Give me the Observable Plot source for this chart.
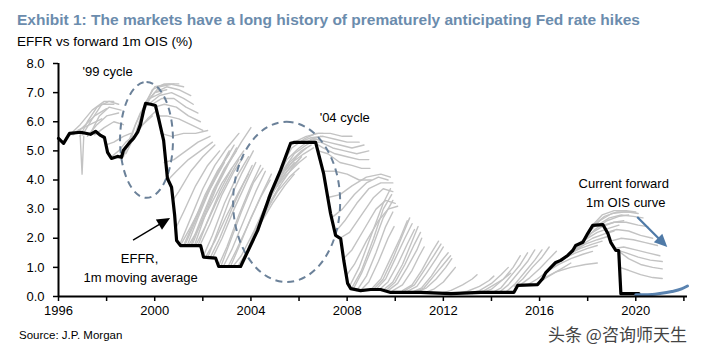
<!DOCTYPE html>
<html><head><meta charset="utf-8">
<script src="https://cdn.jsdelivr.net/npm/d3@7"></script>
<script src="https://cdn.jsdelivr.net/npm/@observablehq/plot@0.6"></script>
<style>
html,body{margin:0;padding:0;background:#fff;}
#wrap{position:relative;width:704px;height:353px;overflow:hidden;font-family:"Liberation Sans",Arial,sans-serif;}
#title{position:absolute;left:17px;top:11px;font-weight:bold;font-size:15.5px;color:#6b8cad;white-space:nowrap;transform-origin:left top;display:inline-block;}
#subtitle{position:absolute;left:17px;top:34px;font-size:13.5px;color:#000;white-space:nowrap;}
#chart{position:absolute;left:0;top:50px;}
#source{position:absolute;left:19px;top:329px;font-size:11.5px;color:#000;white-space:nowrap;}
#mark{position:absolute;left:548px;top:321px;font-size:17px;color:#444;font-family:"Noto Sans CJK SC",sans-serif;white-space:nowrap;}
</style></head>
<body>
<div id="wrap">
  <span id="title">Exhibit 1: The markets have a long history of prematurely anticipating Fed rate hikes</span>
  <div id="subtitle">EFFR vs forward 1m OIS (%)</div>
  <div id="chart"></div>
  <div id="source">Source: J.P. Morgan</div>
  <div id="mark">头条 @咨询师天生</div>
</div>
<script>
// ---- EFFR, 1m moving average (year, %)
const effrYears = [1996.00,1996.21,1996.46,1996.92,1997.33,1997.54,1997.75,1997.91,1998.04,1998.20,1998.45,1998.62,1998.70,1999.00,1999.12,1999.29,1999.41,1999.54,1999.62,1999.83,2000.03,2000.16,2000.37,2000.53,2000.70,2000.83,2000.91,2001.07,2001.91,2002.03,2002.53,2002.66,2003.57,2004.28,2004.82,2005.23,2005.65,2005.78,2006.69,2007.02,2007.31,2007.52,2007.73,2007.86,2008.02,2008.15,2008.56,2008.98,2009.39,2009.81,2011.06,2012.31,2013.55,2014.93,2015.09,2015.92,2016.13,2016.26,2016.67,2016.88,2017.17,2017.38,2017.50,2017.80,2018.00,2018.21,2018.63,2018.84,2018.96,2019.17,2019.29,2019.38,2020.13];
const effrValues = [5.43,5.26,5.60,5.64,5.57,5.67,5.53,5.46,4.95,4.74,4.81,4.78,5.02,5.33,5.43,5.64,5.91,6.39,6.63,6.60,6.56,6.12,5.36,4.05,3.75,2.78,1.92,1.75,1.75,1.35,1.32,1.03,1.03,2.27,3.54,4.33,5.26,5.29,5.29,4.23,2.85,2.10,1.99,1.24,0.45,0.27,0.20,0.24,0.24,0.14,0.14,0.10,0.14,0.14,0.38,0.41,0.62,0.82,1.17,1.24,1.41,1.58,1.75,1.86,2.16,2.44,2.47,2.16,1.86,1.58,1.58,0.10,0.10];

// ---- Current forward 1m OIS curve
const currentYears = [2020.00,2020.50,2021.00,2021.50,2021.90,2022.15];
const currentValues = [0.06,0.06,0.10,0.17,0.26,0.36];

// ---- Historical forward 1m OIS curves: [year, %] points
const forwardCurves = [
  [[1996.3,5.45],[1996.8,5.7],[1997.3,5.9],[1997.8,6.1]],
  [[1996.6,5.55],[1997.0,5.8],[1997.5,6.2],[1998.0,6.45]],
  [[1996.9,5.5],[1997.2,6.0],[1997.6,6.5],[1998.1,6.7],[1998.5,6.6]],
  [[1997.0,5.55],[1997.4,6.1],[1997.8,6.6],[1998.3,6.6]],
  [[1997.2,5.5],[1997.6,5.9],[1998.0,6.2],[1998.5,6.3]],
  [[1996.4,5.5],[1996.9,5.9],[1997.4,6.4],[1997.9,6.7],[1998.3,6.7]],
  [[1997.3,5.55],[1997.7,6.2],[1998.1,6.5],[1998.6,6.4]],
  [[1996.9,5.55],[1996.98,4.2],[1997.05,5.5]],
  [[1997.5,5.55],[1997.9,5.8],[1998.3,6.0],[1998.7,5.9]],
  [[1997.95,5.2],[1998.3,5.3],[1998.7,5.5],[1999.0,5.6]],
  [[1998.2,4.8],[1998.5,5.0],[1998.8,5.3],[1999.1,5.5]],
  [[1998.7,4.8],[1999.0,5.5],[1999.4,6.3],[1999.8,6.8],[2000.3,7.0]],
  [[1998.9,5.1],[1999.2,5.9],[1999.6,6.6],[2000.0,7.0],[2000.5,7.1]],
  [[1999.1,5.35],[1999.4,6.1],[1999.8,6.8],[2000.2,7.2],[2000.8,7.3]],
  [[1999.2,5.5],[1999.5,6.4],[1999.9,7.1],[2000.4,7.3],[2001.0,7.3]],
  [[1999.35,5.9],[1999.65,6.7],[2000.0,7.2],[2000.6,7.3],[2001.2,7.2]],
  [[1998.8,4.9],[1999.1,5.4],[1999.5,5.9],[1999.9,6.2]],
  [[1999.0,5.3],[1999.3,5.7],[1999.7,6.1],[2000.1,6.4]],
  [[1999.6,6.6],[2000.0,7.0],[2000.5,7.2],[2001.0,7.1],[2001.5,6.9]],
  [[1999.75,6.6],[2000.2,6.9],[2000.7,7.0],[2001.2,6.8],[2001.6,6.6]],
  [[1999.9,6.6],[2000.3,6.8],[2000.8,6.8],[2001.3,6.5],[2001.8,6.3]],
  [[2000.0,6.5],[2000.4,6.6],[2000.9,6.5],[2001.4,6.2],[2001.9,6.0]],
  [[2000.1,6.2],[2000.5,6.2],[2001.0,6.1],[2001.5,5.9],[2002.0,5.7]],
  [[2000.25,5.6],[2000.7,5.5],[2001.2,5.6],[2001.7,5.6],[2002.2,5.7]],
  [[2000.4,4.6],[2000.8,4.7],[2001.3,5.0],[2001.8,5.3],[2002.3,5.5]],
  [[2000.55,4.0],[2000.9,4.3],[2001.4,4.7],[2001.9,5.0],[2002.4,5.3]],
  [[2000.75,3.3],[2001.0,3.6],[2001.5,4.3],[2002.0,4.8],[2002.5,5.2]],
  [[2000.85,2.3],[2001.2,2.9],[2001.7,3.8],[2002.2,4.5],[2002.7,5.0]],
  [[2001.05,1.8],[2001.5,2.7],[2002.0,3.7],[2002.5,4.5],[2003.0,5.1],[2003.5,5.6]],
  [[2001.2,1.75],[2001.6,2.5],[2002.1,3.5],[2002.6,4.3],[2003.1,4.9]],
  [[2001.25,1.75],[2001.7,2.6],[2002.2,3.6],[2002.7,4.4],[2003.1,5.0]],
  [[2001.35,1.75],[2001.8,2.7],[2002.3,3.7],[2002.8,4.5],[2003.3,5.2]],
  [[2001.5,1.75],[2001.9,2.6],[2002.4,3.6],[2002.9,4.4],[2003.4,5.0]],
  [[2001.55,1.75],[2002.0,2.7],[2002.5,3.7],[2003.0,4.5],[2003.4,5.1]],
  [[2001.65,1.75],[2002.1,2.8],[2002.6,3.8],[2003.1,4.6],[2003.6,5.3],[2004.0,5.8]],
  [[2001.8,1.75],[2002.2,2.6],[2002.7,3.6],[2003.2,4.4],[2003.7,5.0]],
  [[2001.85,1.7],[2002.3,2.5],[2002.8,3.5],[2003.3,4.3],[2003.7,4.8]],
  [[2002.0,1.35],[2002.4,2.1],[2002.9,3.2],[2003.4,4.1],[2003.9,4.8]],
  [[2002.2,1.32],[2002.6,2.2],[2003.1,3.3],[2003.6,4.2],[2004.1,5.0]],
  [[2002.3,1.32],[2002.7,2.0],[2003.2,3.0],[2003.7,3.9],[2004.05,4.5]],
  [[2002.4,1.32],[2002.8,2.0],[2003.3,3.0],[2003.8,3.9],[2004.2,4.6]],
  [[2002.65,1.05],[2003.0,1.7],[2003.5,2.8],[2004.0,3.8],[2004.4,4.5]],
  [[2002.75,1.03],[2003.1,1.8],[2003.6,2.9],[2004.1,3.9],[2004.5,4.4]],
  [[2002.85,1.03],[2003.2,1.6],[2003.7,2.6],[2004.2,3.6],[2004.6,4.3]],
  [[2003.05,1.03],[2003.4,1.6],[2003.9,2.5],[2004.4,3.4],[2004.8,4.0]],
  [[2003.15,1.03],[2003.5,1.7],[2004.0,2.7],[2004.5,3.6],[2004.85,4.2]],
  [[2003.25,1.03],[2003.6,1.4],[2004.1,2.2],[2004.6,3.1],[2005.0,3.7]],
  [[2003.45,1.03],[2003.8,1.5],[2004.3,2.4],[2004.8,3.2],[2005.2,3.8]],
  [[2001.1,1.8],[2001.5,2.4],[2002.0,3.2],[2002.5,4.0],[2002.9,4.6]],
  [[2001.4,1.75],[2001.8,2.3],[2002.3,3.1],[2002.8,3.9],[2003.2,4.4]],
  [[2001.7,1.75],[2002.1,2.4],[2002.6,3.3],[2003.1,4.1],[2003.5,4.7]],
  [[2002.1,1.33],[2002.5,1.9],[2003.0,2.8],[2003.5,3.6],[2003.9,4.2]],
  [[2003.9,1.7],[2004.3,2.5],[2004.8,3.4],[2005.3,4.1],[2005.8,4.6]],
  [[2004.1,2.1],[2004.5,2.9],[2005.0,3.7],[2005.5,4.3],[2006.0,4.7]],
  [[2004.2,2.2],[2004.6,2.9],[2005.1,3.6],[2005.6,4.1],[2006.0,4.4]],
  [[2004.3,2.3],[2004.7,3.1],[2005.2,3.8],[2005.7,4.4],[2006.1,4.8]],
  [[2004.5,2.9],[2004.9,3.6],[2005.4,4.3],[2005.9,4.8],[2006.3,5.1]],
  [[2004.7,3.4],[2005.1,4.0],[2005.6,4.6],[2006.1,5.0],[2006.5,5.2]],
  [[2004.8,3.5],[2005.2,4.1],[2005.7,4.6],[2006.2,4.9],[2006.6,5.1]],
  [[2004.9,3.7],[2005.3,4.3],[2005.8,4.9],[2006.3,5.2],[2006.7,5.4]],
  [[2005.1,4.1],[2005.5,4.7],[2006.0,5.1],[2006.5,5.4],[2006.9,5.5]],
  [[2005.35,4.6],[2005.7,5.1],[2006.2,5.4],[2006.7,5.6],[2007.0,5.6]],
  [[2004.0,1.9],[2004.4,2.5],[2004.9,3.2],[2005.4,3.8],[2005.8,4.2]],
  [[2004.6,3.1],[2005.0,3.7],[2005.5,4.2],[2006.0,4.6],[2006.3,4.8]],
  [[2005.8,5.3],[2006.3,5.5],[2006.8,5.6],[2007.3,5.6],[2007.8,5.5],[2008.2,5.5]],
  [[2006.0,5.3],[2006.5,5.45],[2007.0,5.5],[2007.5,5.4],[2008.0,5.3],[2008.5,5.3]],
  [[2006.2,5.3],[2006.7,5.4],[2007.2,5.3],[2007.7,5.2],[2008.2,5.1],[2008.7,5.2]],
  [[2006.4,5.3],[2006.9,5.3],[2007.4,5.1],[2007.9,5.0],[2008.4,4.9],[2008.9,5.0]],
  [[2006.6,5.3],[2007.0,5.1],[2007.5,4.9],[2008.0,4.8],[2008.5,4.7],[2008.9,4.7]],
  [[2006.8,5.0],[2007.2,4.9],[2007.7,4.6],[2008.2,4.5],[2008.6,4.4],[2008.95,4.4]],
  [[2007.0,4.3],[2007.5,4.3],[2008.0,4.2],[2008.5,4.0],[2009.0,4.0]],
  [[2007.2,3.4],[2007.7,3.5],[2008.2,3.8],[2008.8,4.1],[2009.4,4.2],[2009.8,4.1]],
  [[2007.35,2.7],[2007.8,3.0],[2008.3,3.5],[2008.8,3.9],[2009.3,4.1],[2009.7,4.0]],
  [[2007.5,2.2],[2007.9,2.6],[2008.4,3.2],[2008.9,3.7],[2009.4,3.9],[2009.9,3.9]],
  [[2007.7,2.0],[2008.1,2.2],[2008.6,2.8],[2009.1,3.4],[2009.5,3.7],[2009.9,3.6]],
  [[2007.85,1.3],[2008.2,1.6],[2008.7,2.3],[2009.2,3.0],[2009.6,3.3],[2010.0,3.2]],
  [[2007.95,0.7],[2008.3,1.1],[2008.8,1.9],[2009.3,2.6],[2009.7,3.0],[2010.1,3.1]],
  [[2008.1,0.35],[2008.5,1.0],[2009.0,2.1],[2009.5,3.2],[2009.8,3.7]],
  [[2008.2,0.3],[2008.6,0.9],[2009.1,2.0],[2009.5,3.0],[2009.85,3.5]],
  [[2008.25,0.25],[2008.6,0.8],[2009.1,1.8],[2009.5,2.7],[2009.9,3.3]],
  [[2008.4,0.2],[2008.8,0.7],[2009.2,1.5],[2009.6,2.4],[2009.9,2.9]],
  [[2008.55,0.2],[2008.9,0.5],[2009.3,1.2],[2009.7,2.0],[2009.95,2.4]],
  [[2009.0,0.25],[2009.4,0.6],[2009.8,1.3],[2010.2,2.0],[2010.5,2.6]],
  [[2009.1,0.25],[2009.5,0.6],[2009.9,1.3],[2010.3,2.1],[2010.6,2.7]],
  [[2009.2,0.25],[2009.6,0.6],[2010.0,1.3],[2010.4,2.0],[2010.7,2.5]],
  [[2009.35,0.25],[2009.7,0.5],[2010.1,1.1],[2010.5,1.8],[2010.8,2.3]],
  [[2009.5,0.22],[2009.9,0.5],[2010.3,1.1],[2010.7,1.9],[2010.95,2.4]],
  [[2009.6,0.2],[2010.0,0.5],[2010.4,1.1],[2010.8,1.8],[2011.05,2.2]],
  [[2009.7,0.2],[2010.1,0.45],[2010.5,1.0],[2010.9,1.6],[2011.1,2.0]],
  [[2009.9,0.2],[2010.3,0.4],[2010.7,0.9],[2011.0,1.4],[2011.2,1.7]],
  [[2010.3,0.2],[2010.7,0.4],[2011.1,0.9],[2011.5,1.5],[2011.8,1.9]],
  [[2010.4,0.2],[2010.8,0.4],[2011.2,0.9],[2011.6,1.4],[2011.9,1.8]],
  [[2010.5,0.18],[2010.9,0.35],[2011.3,0.8],[2011.7,1.3],[2012.0,1.7]],
  [[2010.7,0.15],[2011.1,0.3],[2011.5,0.7],[2011.9,1.2],[2012.2,1.5]],
  [[2010.8,0.15],[2011.2,0.3],[2011.6,0.7],[2012.0,1.1],[2012.3,1.4]],
  [[2010.9,0.15],[2011.3,0.3],[2011.7,0.6],[2012.1,1.0],[2012.35,1.3]],
  [[2011.2,0.12],[2011.6,0.25],[2012.0,0.5],[2012.3,0.8],[2012.5,1.0]],
  [[2011.8,0.1],[2012.3,0.2],[2012.8,0.4],[2013.2,0.6],[2013.4,0.75]],
  [[2012.5,0.1],[2013.0,0.18],[2013.5,0.35],[2013.9,0.55],[2014.1,0.7]],
  [[2013.2,0.1],[2013.7,0.2],[2014.1,0.4],[2014.5,0.6],[2014.8,0.8]],
  [[2013.0,0.1],[2013.5,0.2],[2014.0,0.45],[2014.4,0.75],[2014.7,1.0]],
  [[2013.6,0.12],[2014.0,0.25],[2014.5,0.6],[2014.9,1.0],[2015.2,1.4]],
  [[2014.0,0.12],[2014.4,0.3],[2014.8,0.7],[2015.2,1.1],[2015.5,1.5]],
  [[2014.3,0.13],[2014.7,0.4],[2015.1,0.8],[2015.5,1.2],[2015.8,1.6]],
  [[2014.6,0.15],[2015.0,0.45],[2015.4,0.85],[2015.8,1.25],[2016.1,1.6]],
  [[2014.95,0.35],[2015.3,0.6],[2015.7,1.0],[2016.1,1.35],[2016.4,1.7]],
  [[2015.2,0.4],[2015.6,0.65],[2016.0,0.95],[2016.4,1.3],[2016.7,1.55]],
  [[2015.5,0.4],[2015.9,0.6],[2016.3,0.85],[2016.7,1.1],[2017.0,1.3]],
  [[2015.8,0.42],[2016.2,0.6],[2016.6,0.8],[2017.0,1.0],[2017.3,1.15]],
  [[2016.1,0.6],[2016.7,0.85],[2017.3,1.0],[2017.9,1.1],[2018.4,1.15]],
  [[2016.3,0.85],[2016.8,1.1],[2017.3,1.3],[2017.8,1.45],[2018.2,1.55]],
  [[2016.5,1.0],[2017.0,1.3],[2017.5,1.5],[2018.0,1.65],[2018.4,1.75]],
  [[2016.7,1.18],[2017.2,1.45],[2017.7,1.65],[2018.2,1.8],[2018.6,1.9]],
  [[2016.9,1.25],[2017.4,1.55],[2017.9,1.8],[2018.4,1.95],[2018.8,2.05]],
  [[2017.2,1.42],[2017.7,1.75],[2018.2,2.0],[2018.7,2.15],[2019.1,2.25]],
  [[2017.4,1.6],[2017.9,1.95],[2018.4,2.2],[2018.9,2.35],[2019.3,2.45]],
  [[2017.6,1.8],[2018.1,2.15],[2018.6,2.4],[2019.1,2.55],[2019.5,2.6]],
  [[2017.85,1.9],[2018.3,2.3],[2018.8,2.6],[2019.3,2.75],[2019.7,2.8]],
  [[2018.05,2.2],[2018.5,2.6],[2019.0,2.85],[2019.5,2.9],[2019.9,2.9]],
  [[2018.15,2.4],[2018.6,2.8],[2019.1,2.95],[2019.6,2.95],[2020.0,2.9]],
  [[2018.25,2.45],[2018.7,2.75],[2019.2,2.9],[2019.7,2.9],[2020.1,2.85]],
  [[2018.45,2.47],[2018.9,2.7],[2019.4,2.8],[2019.9,2.75],[2020.3,2.7]],
  [[2018.65,2.45],[2019.1,2.55],[2019.6,2.55],[2020.1,2.45],[2020.5,2.4]],
  [[2018.8,2.2],[2019.2,2.3],[2019.7,2.25],[2020.2,2.1],[2020.7,2.0]],
  [[2018.95,1.9],[2019.4,2.0],[2019.9,1.95],[2020.4,1.85],[2020.9,1.75]],
  [[2019.1,1.65],[2019.5,1.7],[2020.0,1.6],[2020.5,1.5],[2021.0,1.4]],
  [[2019.2,1.6],[2019.6,1.5],[2020.1,1.35],[2020.6,1.25],[2021.1,1.2]],
  [[2019.3,1.55],[2019.7,1.3],[2020.2,1.1],[2020.7,1.0],[2021.1,0.95]],
  [[2019.33,1.0],[2019.7,0.9],[2020.2,0.75],[2020.7,0.65],[2021.1,0.62]]
];

// ---- Annotations
const cycleBoxes = [
  {x1: 1998.58, x2: 2000.78, y1: 3.37, y2: 7.35},
  {x1: 2003.28, x2: 2007.73, y1: 0.48, y2: 5.98}
];
const noteTexts = ["'99 cycle", "'04 cycle", "EFFR,", "1m moving average", "Current forward", "1m OIS curve"];
const noteX = [1998.04, 2007.9, 1999.37, 1999.41, 2019.5, 2019.58];
const noteY = [7.73, 6.15, 1.31, 0.65, 3.88, 3.23];
const arrowFrom = [[1999.12, 1.92], [2020.08, 2.71]];
const arrowTo = [[2000.66, 2.68], [2021.33, 1.68]];
const arrowColor = ["#000000", "#4f7aa7"];

const yTicks = [0, 1, 2, 3, 4, 5, 6, 7, 8];
const xTicks = [1996, 1998, 2000, 2002, 2004, 2006, 2008, 2010, 2012, 2014, 2016, 2018, 2020, 2022];
const xLabelEvery = 4;

const effr = effrYears.map((t, i) => ({t, v: effrValues[i]}));
const current = currentYears.map((t, i) => ({t, v: currentValues[i]}));
const fwdRows = forwardCurves.flatMap((c, i) => c.map(([t, v]) => ({id: i, t, v})));
const notes = noteTexts.map((s, i) => ({s, x: noteX[i], y: noteY[i]}));

function arrowHeads(index, scales) {
  const g = document.createElementNS("http://www.w3.org/2000/svg", "g");
  arrowFrom.forEach((a, i) => {
    const b = arrowTo[i];
    const x1 = scales.x(a[0]), y1 = scales.y(a[1]);
    const x2 = scales.x(b[0]), y2 = scales.y(b[1]);
    const dx = x2 - x1, dy = y2 - y1, len = Math.hypot(dx, dy);
    const ux = dx / len, uy = dy / len, nx = -uy, ny = ux;
    const L = 13, W = 6;
    const bx = x2 - L * ux, by = y2 - L * uy;
    const line = document.createElementNS("http://www.w3.org/2000/svg", "line");
    line.setAttribute("x1", x1); line.setAttribute("y1", y1);
    line.setAttribute("x2", bx + 2 * ux); line.setAttribute("y2", by + 2 * uy);
    line.setAttribute("stroke", arrowColor[i]);
    line.setAttribute("stroke-width", i === 0 ? 1.3 : 2.2);
    g.appendChild(line);
    const p = document.createElementNS("http://www.w3.org/2000/svg", "polygon");
    p.setAttribute("points", `${x2},${y2} ${bx + W * nx},${by + W * ny} ${bx - W * nx},${by - W * ny}`);
    p.setAttribute("fill", arrowColor[i]);
    g.appendChild(p);
  });
  return g;
}

const chart = Plot.plot({
  width: 704,
  height: 272,
  marginTop: 13,
  marginBottom: 26,
  marginLeft: 58,
  marginRight: 17,
  x: {domain: [1996, 2022.15]},
  y: {domain: [0, 8]},
  style: {fontFamily: "'Liberation Sans', Arial, sans-serif", fontSize: "13px", color: "#000", background: "#fff", overflow: "visible"},
  marks: [
    Plot.line(fwdRows, {x: "t", y: "v", z: "id", stroke: "#c3c3c3", strokeWidth: 1.4}),
    Plot.rect(cycleBoxes, {x1: "x1", x2: "x2", y1: "y1", y2: "y2", rx: 400, ry: 400, fill: "none", stroke: "#6b8199", strokeWidth: 2, strokeDasharray: "7,5"}),
    Plot.line(effr, {x: "t", y: "v", stroke: "#000", strokeWidth: 3.2, strokeLinejoin: "round"}),
    Plot.line(current, {x: "t", y: "v", stroke: "#5a83b0", strokeWidth: 3, curve: "monotone-x"}),
    Plot.axisY({ticks: yTicks, tickFormat: d3.format(".1f"), tickSize: 5, tickPadding: 9, strokeWidth: 1.5}),
    Plot.axisX({ticks: xTicks, tickFormat: d => d % xLabelEvery === 0 ? String(d) : "", tickSize: 5, tickPadding: 4, strokeWidth: 1.5}),
    Plot.ruleY([0], {stroke: "#000", strokeWidth: 2}),
    Plot.ruleX([1996], {y1: 0, y2: 8, stroke: "#000", strokeWidth: 2}),
    Plot.text(notes, {x: "x", y: "y", text: "s", fontSize: 13, fill: "#000", textAnchor: "middle"}),
    arrowHeads
  ]
});
document.getElementById("chart").appendChild(chart);

const title = document.getElementById("title");
const w = title.getBoundingClientRect().width;
title.style.transform = `scaleX(${623 / w})`;
</script>
</body></html>
